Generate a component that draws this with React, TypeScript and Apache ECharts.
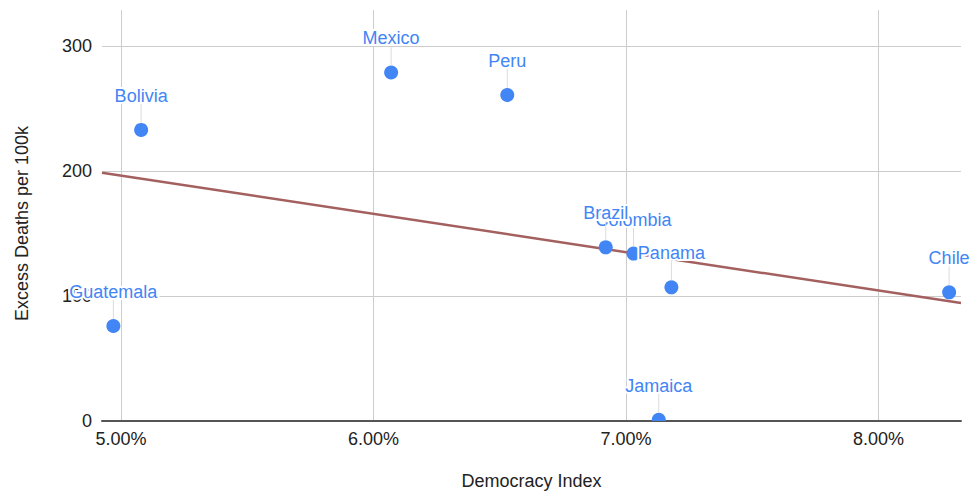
import React, { useEffect, useRef } from "react";
import * as echarts from "echarts";

// Countries, their democracy index (%) and excess deaths per 100k
const countries = ["Bolivia", "Mexico", "Peru", "Colombia", "Brazil", "Panama", "Chile", "Jamaica", "Guatemala"];
const democracyIndex = [5.08, 6.07, 6.53, 7.03, 6.92, 7.18, 8.28, 7.13, 4.97];
const excessDeaths = [233, 279, 261, 134, 139, 107, 103, 1, 76];

const xRange = [4.925, 8.327];
const yRange = [0, 329];

const FONT = '"Liberation Sans", Arial, sans-serif';
const BLUE = "#4285f4";

// Ordinary least-squares fit used for the trendline
function linearFit(xs: number[], ys: number[]) {
  const n = xs.length;
  const mx = xs.reduce((a, b) => a + b, 0) / n;
  const my = ys.reduce((a, b) => a + b, 0) / n;
  let sxy = 0;
  let sxx = 0;
  for (let i = 0; i < n; i++) {
    sxy += (xs[i] - mx) * (ys[i] - my);
    sxx += (xs[i] - mx) * (xs[i] - mx);
  }
  const slope = sxy / sxx;
  return (x: number) => my + slope * (x - mx);
}

export default function App() {
  const ref = useRef<HTMLDivElement>(null);

  useEffect(() => {
    document.body.style.margin = "0";
    if (!ref.current) return;
    const chart = echarts.init(ref.current, undefined, { renderer: "svg" });

    const points = countries.map((c, i) => [democracyIndex[i], excessDeaths[i], c]);
    const fit = linearFit(democracyIndex, excessDeaths);
    const trend = [
      [xRange[0], fit(xRange[0])],
      [xRange[1], fit(xRange[1])],
    ];

    chart.setOption({
      animation: false,
      grid: { left: 102, right: 14, top: 10, bottom: 71, containLabel: false, outerBoundsMode: "none" },
      xAxis: {
        type: "value",
        min: xRange[0],
        max: xRange[1],
        splitNumber: 3,
        minInterval: 1,
        maxInterval: 1,
        name: "Democracy Index",
        nameLocation: "middle",
        nameGap: 51,
        nameTextStyle: { color: "#222", fontSize: 18, fontFamily: FONT },
        axisLine: { show: true, onZero: false, lineStyle: { color: "#555", width: 2 } },
        axisTick: { show: false },
        axisLabel: {
          color: "#222",
          fontSize: 18,
          fontFamily: FONT,
          margin: 9,
          showMinLabel: false,
          showMaxLabel: false,
          formatter: (v: number) => v.toFixed(2) + "%",
        },
        splitLine: { show: true, showMinLine: false, showMaxLine: false, lineStyle: { color: "#cccccc", width: 1 } },
      },
      yAxis: {
        type: "value",
        min: yRange[0],
        max: yRange[1],
        interval: 100,
        name: "Excess Deaths per 100k",
        nameLocation: "middle",
        nameGap: 71,
        nameRotate: 90,
        nameTextStyle: { color: "#222", fontSize: 18, fontFamily: FONT, padding: [0, 16, 0, 0] },
        axisLine: { show: false },
        axisTick: { show: false },
        axisLabel: { color: "#222", fontSize: 18, fontFamily: FONT, margin: 10, showMaxLabel: false },
        splitLine: { show: true, showMaxLine: false, lineStyle: { color: "#cccccc", width: 1 } },
      },
      series: [
        {
          type: "line",
          data: trend,
          symbol: "none",
          z: 2,
          lineStyle: { color: "#a3605f", width: 2.5 },
          silent: true,
        },
        {
          type: "custom",
          data: points,
          clip: true,
          z: 3,
          renderItem: (_params: any, api: any) => {
            const p = api.coord([api.value(0), api.value(1)]);
            return {
              type: "circle",
              shape: { cx: p[0], cy: p[1], r: 7 },
              style: { fill: BLUE },
            };
          },
        },
        {
          type: "custom",
          data: points,
          clip: false,
          z: 4,
          renderItem: (params: any, api: any) => {
            const p = api.coord([api.value(0), api.value(1)]);
            const name = countries[params.dataIndex];
            return {
              type: "group",
              children: [
                {
                  type: "line",
                  shape: { x1: p[0], y1: p[1] - 7, x2: p[0], y2: p[1] - 26 },
                  style: { stroke: "#dcdcdc", lineWidth: 1 },
                },
                {
                  type: "text",
                  x: p[0],
                  y: p[1] - 34,
                  style: {
                    text: name,
                    fill: BLUE,
                    fontSize: 18,
                    fontFamily: FONT,
                    align: "center",
                    verticalAlign: "middle",
                    stroke: "#ffffff",
                    lineWidth: 4,
                  },
                },
              ],
            };
          },
        },
      ],
    });

    return () => chart.dispose();
  }, []);

  return <div ref={ref} style={{ width: 975, height: 492 }} />;
}
